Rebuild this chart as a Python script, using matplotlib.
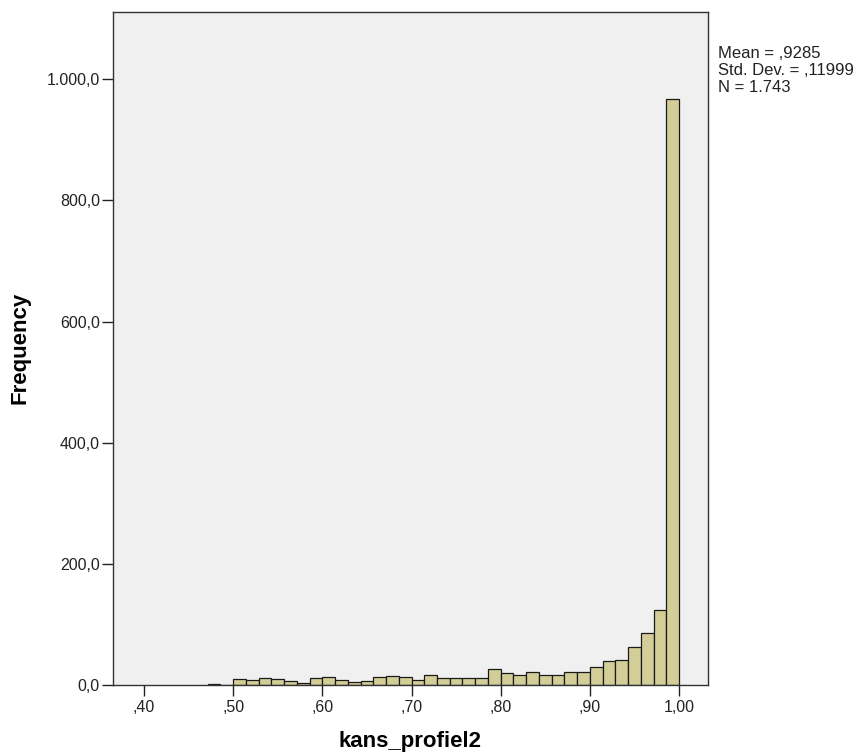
import numpy as np
import matplotlib
matplotlib.use("Agg")
import matplotlib.pyplot as plt

plt.rcParams['font.family'] = ['Liberation Sans', 'DejaVu Sans']

# Histogram data (bin width 1/70, first bin starts at 0.4714)
bin_width = 1.0 / 70
first_edge = 1.0 - 37 * bin_width
counts = [1, 0,
          10, 9, 12, 10, 7, 4, 11,
          14, 9, 5, 7, 14, 15, 14,
          9, 17, 12, 12, 12, 12, 27,
          20, 16, 22, 17, 17, 22, 22,
          29, 39, 42, 63, 86, 124, 967]
x_ticks = [0.40, 0.50, 0.60, 0.70, 0.80, 0.90, 1.00]
x_tick_labels = [",40", ",50", ",60", ",70", ",80", ",90", "1,00"]
y_ticks = [0, 200, 400, 600, 800, 1000]
y_tick_labels = ["0,0", "200,0", "400,0", "600,0", "800,0", "1.000,0"]
stats_lines = ["Mean = ,9285", "Std. Dev. = ,11999", "N = 1.743"]
x_label = "kans_profiel2"
y_label = "Frequency"

W, H = 861, 756
fig = plt.figure(figsize=(W/100, H/100), dpi=100)
ax = fig.add_axes([113/W, 1 - 685/H, (708-113)/W, (685-12)/H])
ax.set_facecolor('#F0F0F0')

lefts = first_edge + bin_width * np.arange(len(counts))
ax.bar(lefts, counts, width=bin_width, align='edge', color='#D3CE97',
       edgecolor='#1a1a1a', linewidth=0.9, zorder=2)

ax.set_xlim(0.3652, 1.0325)
ax.set_ylim(0, 1111)
ax.set_xticks(x_ticks)
ax.set_xticklabels(x_tick_labels)
ax.set_yticks(y_ticks)
ax.set_yticklabels(y_tick_labels)
ax.tick_params(axis='both', direction='out', length=8, width=1, color='#222222',
               labelsize=11.5, labelcolor='#222222')
ax.tick_params(axis='x', pad=3)
ax.tick_params(axis='y', pad=1.5)
for s in ax.spines.values():
    s.set_color('#333333')
    s.set_linewidth(1)

ax.set_xlabel(x_label, fontsize=16, fontweight='bold', va='center', ha='center')
ax.xaxis.set_label_coords(0.5, (685 - 742) / 673)
ax.set_ylabel(y_label, fontsize=16, fontweight='bold', va='center', ha='center')
ax.yaxis.set_label_coords((20 - 113) / 595, (685 - 347.5) / 673)

for i, line in enumerate(stats_lines):
    fig.text(718/W, 1 - (58.3 + 16.7 * i)/H, line, fontsize=12, va='baseline',
             ha='left', color='#222222')

fig.savefig("out.png", dpi=100, facecolor='white')
